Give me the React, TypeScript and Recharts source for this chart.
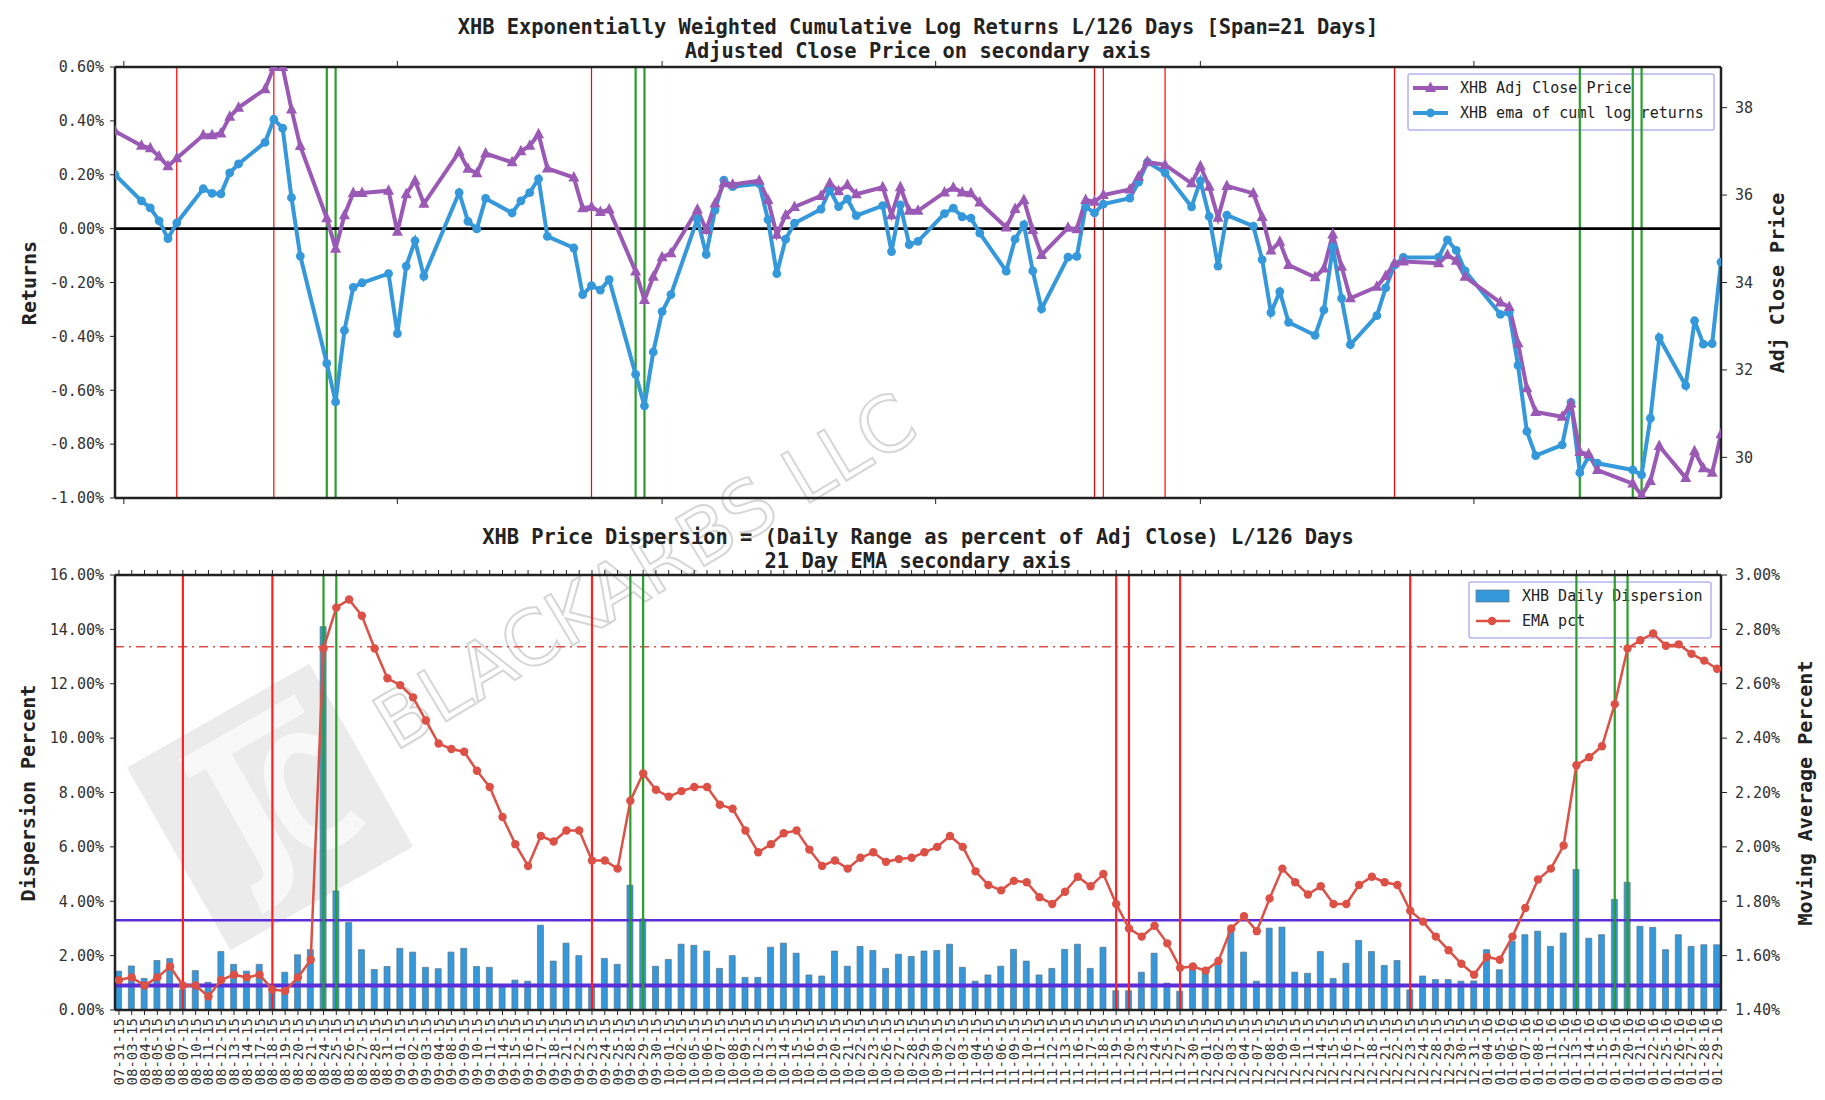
import React from "react";
import { ComposedChart, Line, Bar, XAxis, YAxis, ReferenceLine } from "recharts";

// trading days, mm-dd-yy
const dates = [
  "07-31-15",
  "08-03-15", "08-04-15", "08-05-15", "08-06-15", "08-07-15", "08-10-15", "08-11-15", "08-12-15", "08-13-15", "08-14-15",
  "08-17-15", "08-18-15", "08-19-15", "08-20-15", "08-21-15", "08-24-15", "08-25-15", "08-26-15", "08-27-15", "08-28-15", "08-31-15",
  "09-01-15", "09-02-15", "09-03-15", "09-04-15", "09-08-15", "09-09-15", "09-10-15", "09-11-15", "09-14-15", "09-15-15",
  "09-16-15", "09-17-15", "09-18-15", "09-21-15", "09-22-15", "09-23-15", "09-24-15", "09-25-15", "09-28-15", "09-29-15", "09-30-15",
  "10-01-15", "10-02-15", "10-05-15", "10-06-15", "10-07-15", "10-08-15", "10-09-15", "10-12-15", "10-13-15", "10-14-15", "10-15-15",
  "10-16-15", "10-19-15", "10-20-15", "10-21-15", "10-22-15", "10-23-15", "10-26-15", "10-27-15", "10-28-15", "10-29-15", "10-30-15",
  "11-02-15", "11-03-15", "11-04-15", "11-05-15", "11-06-15", "11-09-15", "11-10-15", "11-11-15", "11-12-15", "11-13-15",
  "11-16-15", "11-17-15", "11-18-15", "11-19-15", "11-20-15", "11-23-15", "11-24-15", "11-25-15", "11-27-15", "11-30-15",
  "12-01-15", "12-02-15", "12-03-15", "12-04-15", "12-07-15", "12-08-15", "12-09-15", "12-10-15", "12-11-15", "12-14-15", "12-15-15",
  "12-16-15", "12-17-15", "12-18-15", "12-21-15", "12-22-15", "12-23-15", "12-24-15", "12-28-15", "12-29-15", "12-30-15", "12-31-15",
  "01-04-16", "01-05-16", "01-06-16", "01-07-16", "01-08-16", "01-11-16", "01-12-16", "01-13-16", "01-14-16", "01-15-16",
  "01-19-16", "01-20-16", "01-21-16", "01-22-16", "01-25-16", "01-26-16", "01-27-16", "01-28-16", "01-29-16",
];

// ema of cumulative log returns, in percent
const emaReturns = [
  0.2, 0.103, 0.077, 0.029, -0.037, 0.021, 0.148, 0.131, 0.129, 0.207, 0.24,
  0.32, 0.406, 0.373, 0.115, -0.102, -0.5, -0.643, -0.378, -0.218, -0.201, -0.167,
  -0.39, -0.139, -0.045, -0.177, 0.134, 0.027, -0.001, 0.112, 0.058, 0.103,
  0.134, 0.185, -0.029, -0.072, -0.245, -0.212, -0.228, -0.189, -0.541, -0.658, -0.458,
  -0.308, -0.245, 0.036, -0.096, 0.069, 0.18, 0.156, 0.167, 0.033, -0.167, -0.039,
  0.02, 0.072, 0.144, 0.082, 0.11, 0.048, 0.085, -0.085, 0.088, -0.059, -0.047,
  0.056, 0.076, 0.044, 0.039, -0.017, -0.158, -0.039, 0.015, -0.157, -0.298,
  -0.106, -0.103, 0.082, 0.058, 0.091, 0.113, 0.173, 0.247, 0.207, 0.081,
  0.177, 0.045, -0.139, 0.05, 0.009, -0.115, -0.312, -0.234, -0.348, -0.396, -0.302,
  -0.069, -0.259, -0.431, -0.323, -0.22, -0.136, -0.107, -0.106, -0.042, -0.081, -0.157,
  -0.318, -0.312, -0.508, -0.753, -0.843, -0.803, -0.645, -0.906, -0.846, -0.871,
  -0.896, -0.914, -0.704, -0.405, -0.583, -0.342, -0.429, -0.427, -0.124,
];

const adjClose = [
  37.46, 37.13, 37.07, 36.88, 36.66, 36.84, 37.37, 37.37, 37.41, 37.79, 38.0,
  38.42, 38.93, 38.93, 37.96, 37.12, 35.47, 34.77, 35.54, 36.05, 36.05, 36.1,
  35.16, 36.02, 36.33, 35.8, 36.99, 36.6, 36.5, 36.95, 36.75, 37.0,
  37.13, 37.39, 36.61, 36.4, 35.7, 35.73, 35.61, 35.67, 34.25, 33.6, 34.13,
  34.58, 34.67, 35.67, 35.2, 35.81, 36.27, 36.24, 36.33, 35.89, 35.09, 35.54,
  35.73, 35.98, 36.27, 36.09, 36.23, 36.02, 36.18, 35.54, 36.18, 35.64, 35.64,
  36.06, 36.17, 36.06, 36.04, 35.83, 35.26, 35.68, 35.89, 35.2, 34.63,
  35.25, 35.22, 35.89, 35.85, 36.0, 36.13, 36.42, 36.76, 36.69, 36.27,
  36.66, 36.19, 35.48, 36.21, 36.04, 35.5, 34.73, 34.93, 34.4, 34.12, 34.32,
  35.1, 34.36, 33.64, 33.9, 34.15, 34.44, 34.48, 34.44, 34.63, 34.5, 34.13,
  33.54, 33.44, 32.61, 31.58, 31.04, 30.93, 31.23, 30.12, 30.07, 29.71,
  29.4, 29.13, 29.46, 30.26, 29.53, 30.14, 29.75, 29.65, 30.53,
];

// daily range as percent of adj close
const dailyDispersion = [
  1.43, 1.62, 1.16, 1.82, 1.89, 0.75, 1.45, 1.02, 2.15, 1.68, 1.43,
  1.68, 0.79, 1.39, 2.03, 2.22, 14.1, 4.38, 3.22, 2.22, 1.49, 1.6,
  2.27, 2.13, 1.57, 1.52, 2.13, 2.27, 1.6, 1.57, 0.92, 1.1,
  1.06, 3.12, 1.8, 2.46, 2.0, 0.85, 1.9, 1.68, 4.59, 3.35, 1.61,
  1.86, 2.42, 2.38, 2.17, 1.53, 2.0, 1.2, 1.2, 2.31, 2.46, 2.09,
  1.29, 1.25, 2.17, 1.61, 2.34, 2.19, 1.53, 2.05, 1.97, 2.17, 2.19,
  2.42, 1.57, 1.06, 1.29, 1.61, 2.23, 1.8, 1.29, 1.53, 2.23,
  2.42, 1.53, 2.31, 0.71, 0.71, 1.39, 2.09, 0.99, 0.69, 1.52,
  1.41, 1.68, 2.95, 2.13, 1.06, 3.01, 3.05, 1.39, 1.35, 2.15, 1.16,
  1.72, 2.56, 2.15, 1.64, 1.82, 0.74, 1.25, 1.12, 1.12, 1.06, 1.07,
  2.22, 1.48, 2.53, 2.77, 2.9, 2.34, 2.83, 5.17, 2.64, 2.77,
  4.07, 4.7, 3.08, 3.04, 2.22, 2.77, 2.34, 2.4, 2.4,
];

// 21 day ema of the dispersion, percent
const emaPct = [
  1.51, 1.52, 1.49, 1.52, 1.56, 1.49, 1.49, 1.45, 1.51, 1.53, 1.52,
  1.53, 1.475, 1.47, 1.52, 1.585, 2.73, 2.88, 2.91, 2.85, 2.73, 2.62,
  2.595, 2.55, 2.465, 2.38, 2.36, 2.35, 2.28, 2.22, 2.11, 2.01,
  1.93, 2.04, 2.02, 2.06, 2.06, 1.95, 1.95, 1.92, 2.17, 2.27, 2.21,
  2.185, 2.205, 2.22, 2.22, 2.155, 2.14, 2.06, 1.98, 2.01, 2.05, 2.06,
  1.99, 1.93, 1.95, 1.92, 1.96, 1.98, 1.945, 1.955, 1.96, 1.98, 2.0,
  2.04, 2.0, 1.91, 1.86, 1.84, 1.875, 1.87, 1.815, 1.79, 1.835,
  1.89, 1.855, 1.9, 1.79, 1.7, 1.67, 1.71, 1.645, 1.555, 1.56,
  1.545, 1.58, 1.7, 1.745, 1.69, 1.81, 1.92, 1.87, 1.825, 1.855, 1.79,
  1.79, 1.86, 1.89, 1.87, 1.86, 1.765, 1.725, 1.67, 1.62, 1.57, 1.53,
  1.595, 1.585, 1.67, 1.775, 1.88, 1.92, 2.005, 2.3, 2.33, 2.37,
  2.525, 2.73, 2.76, 2.785, 2.74, 2.745, 2.71, 2.685, 2.655,
];

const redDates = ["08-07-15", "08-18-15", "09-23-15", "11-19-15", "11-20-15", "11-27-15", "12-23-15"];
const greenDates = ["08-24-15", "08-25-15", "09-28-15", "09-29-15", "01-13-16", "01-19-16", "01-20-16"];
const monthStarts = ["08-01-15", "09-01-15", "10-01-15", "11-01-15", "12-01-15", "01-01-16"];

const returnTicks = [-1.0, -0.8, -0.6, -0.4, -0.2, 0.0, 0.2, 0.4, 0.6];
const priceTicks = [30, 32, 34, 36, 38];
const dispersionTicks = [0, 2, 4, 6, 8, 10, 12, 14, 16];
const emaTicks = [1.4, 1.6, 1.8, 2.0, 2.2, 2.4, 2.6, 2.8, 3.0];

const upperBand = 3.3;
const lowerBand = 0.9;
const emaThreshold = 13.36;

const FONT = "DejaVu Sans Mono";
const BLUE = "#3498db";
const PURPLE = "#9b59b6";
const RED_EMA = "#dc5046";
const GREEN = "#2a9d2a";
const BAND = "#5a2ed8";

const toDay = (s: string) => {
  const [m, d, y] = s.split("-").map(Number);
  return Date.UTC(2000 + y, m - 1, d) / 86400000;
};
const day0 = toDay(dates[0]);
const dayOf = (s: string) => toDay(s) - day0;

const topData = dates.map((dt, i) => ({ day: dayOf(dt), ret: emaReturns[i], price: adjClose[i] }));
const bottomData = dates.map((dt, i) => ({ i, date: dt, disp: dailyDispersion[i], ema: emaPct[i] }));
const lastDay = topData[topData.length - 1].day;
const monthTicks = monthStarts.map(dayOf);
const indexTicks = dates.map((_, i) => i);

const pct = (v: number) => v.toFixed(2) + "%";
const axisStyle = { stroke: "#222", strokeWidth: 2.5 };
const tickStyle = { fontFamily: FONT, fontSize: 15, fill: "#333" };

const EmptyTick = () => <g />;

const DateTick = (props: any) => {
  const { x, y, payload } = props;
  return (
    <text
      x={x}
      y={y}
      transform={`rotate(-90 ${x} ${y})`}
      textAnchor="end"
      dominantBaseline="central"
      fontFamily={FONT}
      fontSize={14}
      fill="#333"
    >
      {dates[payload.value]}
    </text>
  );
};

const CircleDot = (color: string, r: number) => (p: any) => {
  const { cx, cy, index } = p;
  if (cx == null || cy == null) return <g key={`c${index}`} />;
  return <circle key={`c${index}`} cx={cx} cy={cy} r={r} fill={color} />;
};

const TriangleDot = (p: any) => {
  const { cx, cy, index } = p;
  if (cx == null || cy == null) return <g key={`t${index}`} />;
  return (
    <polygon
      key={`t${index}`}
      points={`${cx},${cy - 6.5} ${cx - 5.5},${cy + 4} ${cx + 5.5},${cy + 4}`}
      fill={PURPLE}
    />
  );
};

function ReturnsChart() {
  return (
    <ComposedChart width={1825} height={540} data={topData} margin={{ top: 57, right: 0, bottom: 32, left: 0 }}>
      <XAxis
        xAxisId="main"
        type="number"
        dataKey="day"
        domain={[0, lastDay]}
        ticks={monthTicks}
        tick={EmptyTick}
        tickSize={6}
        tickLine={{ stroke: "#222" }}
        axisLine={axisStyle}
        height={10}
        allowDataOverflow
      />
      <XAxis
        xAxisId="top"
        orientation="top"
        type="number"
        dataKey="day"
        domain={[0, lastDay]}
        ticks={monthTicks}
        tick={EmptyTick}
        tickSize={6}
        tickLine={{ stroke: "#222" }}
        axisLine={axisStyle}
        height={10}
        allowDataOverflow
      />
      <YAxis
        yAxisId="ret"
        orientation="left"
        width={115}
        domain={[-1, 0.6]}
        ticks={returnTicks}
        tickFormatter={pct}
        tick={tickStyle}
        tickSize={5}
        tickMargin={6}
        tickLine={{ stroke: "#222" }}
        axisLine={axisStyle}
        allowDataOverflow
      />
      <YAxis
        yAxisId="price"
        orientation="right"
        width={104}
        domain={[29.07, 38.93]}
        ticks={priceTicks}
        tick={tickStyle}
        tickSize={6}
        tickMargin={8}
        tickLine={{ stroke: "#222" }}
        axisLine={axisStyle}
        allowDataOverflow
      />
      {redDates.map((d) => (
        <ReferenceLine key={d} xAxisId="main" yAxisId="ret" x={dayOf(d)} stroke="#ff0000" strokeWidth={1.2} />
      ))}
      {greenDates.map((d) => (
        <ReferenceLine key={d} xAxisId="main" yAxisId="ret" x={dayOf(d)} stroke={GREEN} strokeWidth={2.2} />
      ))}
      <ReferenceLine xAxisId="main" yAxisId="ret" y={0} stroke="#000" strokeWidth={2.8} />
      <Line
        xAxisId="main"
        yAxisId="ret"
        dataKey="ret"
        stroke={BLUE}
        strokeWidth={4}
        dot={CircleDot(BLUE, 4.4)}
        isAnimationActive={false}
      />
      <Line
        xAxisId="main"
        yAxisId="price"
        dataKey="price"
        stroke={PURPLE}
        strokeWidth={4}
        dot={TriangleDot}
        isAnimationActive={false}
      />
    </ComposedChart>
  );
}

function DispersionChart() {
  return (
    <ComposedChart width={1825} height={560} data={bottomData} margin={{ top: 25, right: 0, bottom: 10, left: 0 }}>
      <XAxis
        xAxisId="main"
        type="number"
        dataKey="i"
        domain={[-0.31, dates.length - 1 + 0.31]}
        ticks={indexTicks}
        interval={0}
        tick={DateTick}
        tickSize={5}
        tickMargin={3}
        tickLine={{ stroke: "#222" }}
        axisLine={axisStyle}
        height={80}
        allowDataOverflow
      />
      <XAxis
        xAxisId="top"
        orientation="top"
        type="number"
        dataKey="i"
        domain={[-0.31, dates.length - 1 + 0.31]}
        ticks={indexTicks}
        interval={0}
        tick={EmptyTick}
        tickSize={5}
        tickLine={{ stroke: "#222" }}
        axisLine={axisStyle}
        height={10}
        allowDataOverflow
      />
      <YAxis
        yAxisId="disp"
        orientation="left"
        width={115}
        domain={[0, 16]}
        ticks={dispersionTicks}
        tickFormatter={pct}
        tick={tickStyle}
        tickSize={5}
        tickMargin={6}
        tickLine={{ stroke: "#222" }}
        axisLine={axisStyle}
        allowDataOverflow
      />
      <YAxis
        yAxisId="ema"
        orientation="right"
        width={104}
        domain={[1.4, 3.0]}
        ticks={emaTicks}
        tickFormatter={pct}
        tick={tickStyle}
        tickSize={6}
        tickMargin={8}
        tickLine={{ stroke: "#222" }}
        axisLine={axisStyle}
        allowDataOverflow
      />
      <Bar
        xAxisId="main"
        yAxisId="disp"
        dataKey="disp"
        barSize={6}
        fill={BLUE}
        stroke="#5f7383"
        strokeWidth={0.7}
        isAnimationActive={false}
      />
      <ReferenceLine xAxisId="main" yAxisId="disp" y={emaThreshold} stroke={RED_EMA} strokeWidth={1.6} strokeDasharray="9 5 2 5" />
      <ReferenceLine xAxisId="main" yAxisId="disp" y={upperBand} stroke={BAND} strokeWidth={2.4} />
      <ReferenceLine xAxisId="main" yAxisId="disp" y={lowerBand} stroke={BAND} strokeWidth={4} />
      {redDates.map((d) => (
        <ReferenceLine key={d} xAxisId="main" yAxisId="disp" x={dates.indexOf(d)} stroke="#ff2020" strokeWidth={2.2} />
      ))}
      {greenDates.map((d) => (
        <ReferenceLine key={d} xAxisId="main" yAxisId="disp" x={dates.indexOf(d)} stroke={GREEN} strokeWidth={2.2} />
      ))}
      <Line
        xAxisId="main"
        yAxisId="ema"
        dataKey="ema"
        stroke={RED_EMA}
        strokeWidth={2.5}
        dot={CircleDot(RED_EMA, 4.2)}
        isAnimationActive={false}
      />
    </ComposedChart>
  );
}

// watermark and legends sit under the plots, the lines run across them
function Background() {
  const legendText = { fontFamily: FONT, fontSize: 15, fill: "#222", dominantBaseline: "central" as const };
  return (
    <svg width={1825} height={1100} style={{ position: "absolute", left: 0, top: 0 }}>
      <g transform="translate(270 807) rotate(-29.6)">
        <rect x={-105} y={-105} width={210} height={210} fill="#ebebeb" />
        <rect x={-56} y={-86} width={133} height={21} fill="#f8f8f8" />
        <path d="M -22 -70 L -22 45 Q -22 78 -58 74" stroke="#f8f8f8" strokeWidth={30} fill="none" />
        <path d="M 72 -28 Q 50 -55 28 -38 Q 8 -20 14 30 Q 24 72 72 52" stroke="#f8f8f8" strokeWidth={20} fill="none" />
      </g>
      <text
        x={395}
        y={752}
        transform="rotate(-31 395 752)"
        fontFamily="DejaVu Sans"
        fontSize={76}
        fill="none"
        stroke="#d6d6d6"
        strokeWidth={2}
      >
        BLACKARBS LLC
      </text>

      <rect x={1408} y={74} width={306} height={56} fill="#fff" stroke="#b4b4f4" strokeWidth={1.5} rx={2} />
      <line x1={1413} x2={1448} y1={88} y2={88} stroke={PURPLE} strokeWidth={4} />
      <polygon points="1430.5,81.5 1425,92 1436,92" fill={PURPLE} />
      <text x={1460} y={88} {...legendText}>XHB Adj Close Price</text>
      <line x1={1413} x2={1448} y1={113} y2={113} stroke={BLUE} strokeWidth={4} />
      <circle cx={1430.5} cy={113} r={4.4} fill={BLUE} />
      <text x={1460} y={113} {...legendText}>XHB ema of cuml log returns</text>

      <rect x={1469} y={582} width={242} height={56} fill="#fff" stroke="#b4b4f4" strokeWidth={1.5} rx={2} />
      <rect x={1476} y={590} width={33} height={12} fill={BLUE} stroke="#5f7383" strokeWidth={0.7} />
      <text x={1522} y={596} {...legendText}>XHB Daily Dispersion</text>
      <line x1={1476} x2={1510} y1={621} y2={621} stroke={RED_EMA} strokeWidth={2.5} />
      <circle cx={1492} cy={621} r={4.2} fill={RED_EMA} />
      <text x={1522} y={621} {...legendText}>EMA pct</text>
    </svg>
  );
}

function Labels() {
  const title = { fontFamily: FONT, fontSize: 20.4, fontWeight: 700, fill: "#222", textAnchor: "middle" as const };
  const axisLabel = { fontFamily: FONT, fontSize: 20, fontWeight: 700, fill: "#222", textAnchor: "middle" as const, dominantBaseline: "central" as const };
  return (
    <svg width={1825} height={1100} style={{ position: "absolute", left: 0, top: 0, pointerEvents: "none" }}>
      <text x={918} y={34} {...title}>XHB Exponentially Weighted Cumulative Log Returns L/126 Days [Span=21 Days]</text>
      <text x={918} y={58} {...title}>Adjusted Close Price on secondary axis</text>
      <text x={918} y={544} {...title}>XHB Price Dispersion = (Daily Range as percent of Adj Close) L/126 Days</text>
      <text x={918} y={568} {...title}>21 Day EMA secondary axis</text>

      <text x={29} y={283} transform="rotate(-90 29 283)" {...axisLabel}>Returns</text>
      <text x={1777} y={283} transform="rotate(-90 1777 283)" {...axisLabel}>Adj Close Price</text>
      <text x={28} y={793} transform="rotate(-90 28 793)" {...axisLabel}>Dispersion Percent</text>
      <text x={1805} y={793} transform="rotate(-90 1805 793)" {...axisLabel}>Moving Average Percent</text>
    </svg>
  );
}

export default function App() {
  return (
    <div style={{ position: "absolute", left: 0, top: 0, width: 1825, height: 1100, background: "#fff", overflow: "hidden" }}>
      <Background />
      <div style={{ position: "absolute", left: 0, top: 0 }}>
        <ReturnsChart />
      </div>
      <div style={{ position: "absolute", left: 0, top: 540 }}>
        <DispersionChart />
      </div>
      <Labels />
    </div>
  );
}
